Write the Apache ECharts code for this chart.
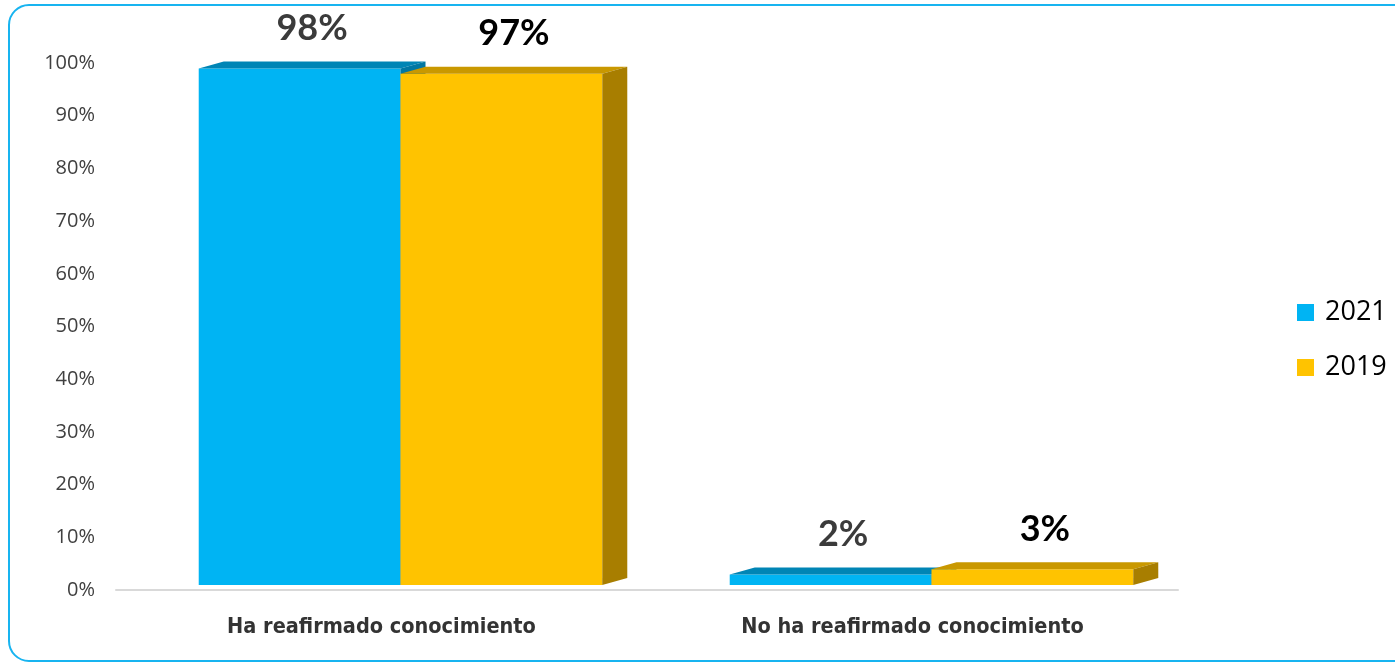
<!DOCTYPE html>
<html>
<head>
	<meta charset="utf-8">
	<title>Reafirmado conocimiento</title>
	<script type="text/javascript" src="https://cdn.jsdelivr.net/npm/echarts@6/dist/echarts.min.js"></script>
	<style>
		html, body { margin: 0; padding: 0; background: #fff; }
	</style>
</head>
<body>
	<div id="main" style="width: 1395px;height: 665px"></div>
	<script type="text/javascript">
	// datos
	const categories = ['Ha reafirmado conocimiento', 'No ha reafirmado conocimiento'];
	const years = ['2021', '2019'];
	const values2021 = [98, 2];
	const values2019 = [97, 3];
	const yTicks = [0, 10, 20, 30, 40, 50, 60, 70, 80, 90, 100];

	// colores: cara frontal, cara superior, cara lateral
	const faces = [
		{ front: '#00b4f3', top: '#0085b5', side: '#0077a3', label: '#3b3b3b' },
		{ front: '#ffc300', top: '#c99800', side: '#a87e00', label: '#000000' }
	];

	// barra 3D simple: frente + tapa + lateral
	function makeRender(idx) {
		return function (params, api) {
			const cat = api.value(0);
			const val = api.value(1);
			const base = api.coord([cat, 0]);
			const top = api.coord([cat, val]);
			const band = api.size([1, 0])[0];
			const bw = band * 0.38;
			const dx = 25, dy = 7, lift = 5, shift = 19;
			const x0 = base[0] + shift + (idx === 0 ? -bw : 0);
			const x1 = x0 + bw;
			const yb = base[1] - lift;
			const yt = top[1] - lift;
			const c = faces[idx];
			return {
				type: 'group',
				children: [
					{ type: 'rect', shape: { x: x0, y: yt, width: bw, height: yb - yt }, style: { fill: c.front } },
					{ type: 'polygon', shape: { points: [[x0, yt], [x1, yt], [x1 + dx, yt - dy], [x0 + dx, yt - dy]] }, style: { fill: c.top } },
					{ type: 'polygon', shape: { points: [[x1, yt], [x1 + dx, yt - dy], [x1 + dx, yb - dy], [x1, yb]] }, style: { fill: c.side } },
					{
						type: 'text',
						style: {
							text: val + '%',
							x: (x0 + x1 + dx) / 2,
							y: yt - 40,
							align: 'center',
							verticalAlign: 'middle',
							fill: c.label,
							font: 'bold 36px Lato, "DejaVu Sans", sans-serif'
						}
					}
				]
			};
		};
	}

	const chart = echarts.init(document.getElementById('main'));
	const option = {
		animation: false,
		graphic: [{
			type: 'rect',
			shape: { x: 9, y: 5, width: 1420, height: 656, r: 20 },
			style: { fill: 'none', stroke: '#18b4f0', lineWidth: 2 },
			silent: true
		}],
		legend: {
			data: years,
			orient: 'vertical',
			left: 1292,
			top: 294,
			itemWidth: 17,
			itemHeight: 17,
			itemGap: 28,
			icon: 'rect',
			textStyle: {
				fontSize: 27,
				lineHeight: 26,
				padding: [0, 0, 0, 6],
				color: '#000',
				fontFamily: '"Open Sans", sans-serif'
			}
		},
		grid: { left: 116, right: 217, top: 63, bottom: 75 },
		xAxis: {
			type: 'category',
			data: categories,
			axisLine: { lineStyle: { color: '#d9d9d9', width: 2 } },
			axisTick: { show: false },
			axisLabel: {
				margin: 26,
				fontSize: 21.5,
				fontWeight: 'bold',
				color: '#333',
				fontFamily: '"DejaVu Sans Condensed", "Liberation Sans", sans-serif'
			}
		},
		yAxis: {
			type: 'value',
			min: yTicks[0],
			max: yTicks[yTicks.length - 1],
			interval: 10,
			splitLine: { show: false },
			axisLine: { show: false },
			axisLabel: {
				margin: 21,
				fontSize: 20,
				color: '#404040',
				fontFamily: '"Open Sans", sans-serif',
				formatter: '{value}%'
			}
		},
		series: [
			{
				name: years[0],
				type: 'custom',
				itemStyle: { color: faces[0].front },
				renderItem: makeRender(0),
				encode: { x: 0, y: 1 },
				data: values2021.map(function (v, i) { return [i, v]; })
			},
			{
				name: years[1],
				type: 'custom',
				itemStyle: { color: faces[1].front },
				renderItem: makeRender(1),
				encode: { x: 0, y: 1 },
				data: values2019.map(function (v, i) { return [i, v]; })
			}
		]
	};
	chart.setOption(option);
	</script>
</body>
</html>
